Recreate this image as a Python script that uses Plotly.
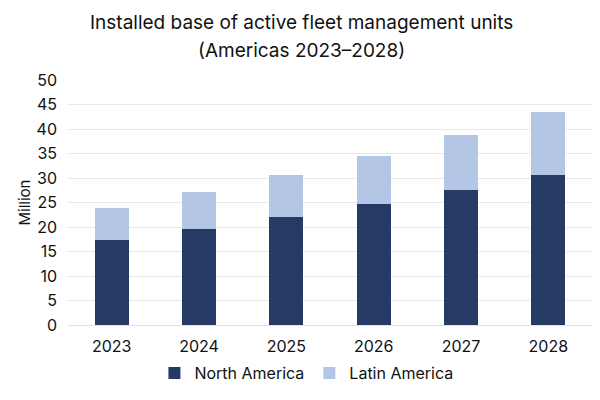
import plotly.graph_objects as go

years = ["2023", "2024", "2025", "2026", "2027", "2028"]
north_america = [17.3, 19.6, 22.1, 24.7, 27.6, 30.6]
latin_america = [6.5, 7.5, 8.5, 9.8, 11.2, 12.8]
y_ticks = [0, 5, 10, 15, 20, 25, 30, 35, 40, 45, 50]
title_lines = ["Installed base of active fleet management units", "(Americas 2023\u20132028)"]

fig = go.Figure()
fig.add_trace(go.Bar(x=years, y=north_america, name="North America",
                     marker=dict(color="#253b65", line=dict(width=0))))
fig.add_trace(go.Bar(x=years, y=latin_america, name="Latin America",
                     marker=dict(color="#b3c6e5", line=dict(width=0))))

for txt, yy in zip(title_lines, [1.2327, 1.1184]):
    fig.add_annotation(text=txt, xref="paper", yref="paper", x=0.446, y=yy,
                       xanchor="center", yanchor="middle", showarrow=False,
                       font=dict(size=19, color="#111111"))

fig.update_layout(
    barmode="stack",
    bargap=0.61,
    width=592, height=392,
    margin=dict(l=60, r=8, t=72, b=75, autoexpand=False),
    paper_bgcolor="white", plot_bgcolor="white",
    font=dict(family="Inter, Arial, sans-serif", color="#111111", size=16),
    legend=dict(orientation="h", x=0.455, xanchor="center", y=-0.196, yanchor="middle",
                font=dict(size=16), traceorder="normal", itemwidth=30),
    yaxis=dict(range=[0, 50], tickvals=y_ticks, showgrid=True, gridcolor="#e8e8e8",
               gridwidth=1, zeroline=False, showline=False, ticks="",
               ticklabelstandoff=10, automargin=False,
               title=dict(text="Million", font=dict(size=15), standoff=2),
               tickfont=dict(size=16)),
    xaxis=dict(showline=True, linecolor="#e0e0e0", ticks="", tickfont=dict(size=16),
               ticklabelstandoff=7, automargin=False),
)

fig.write_html("out.html")
